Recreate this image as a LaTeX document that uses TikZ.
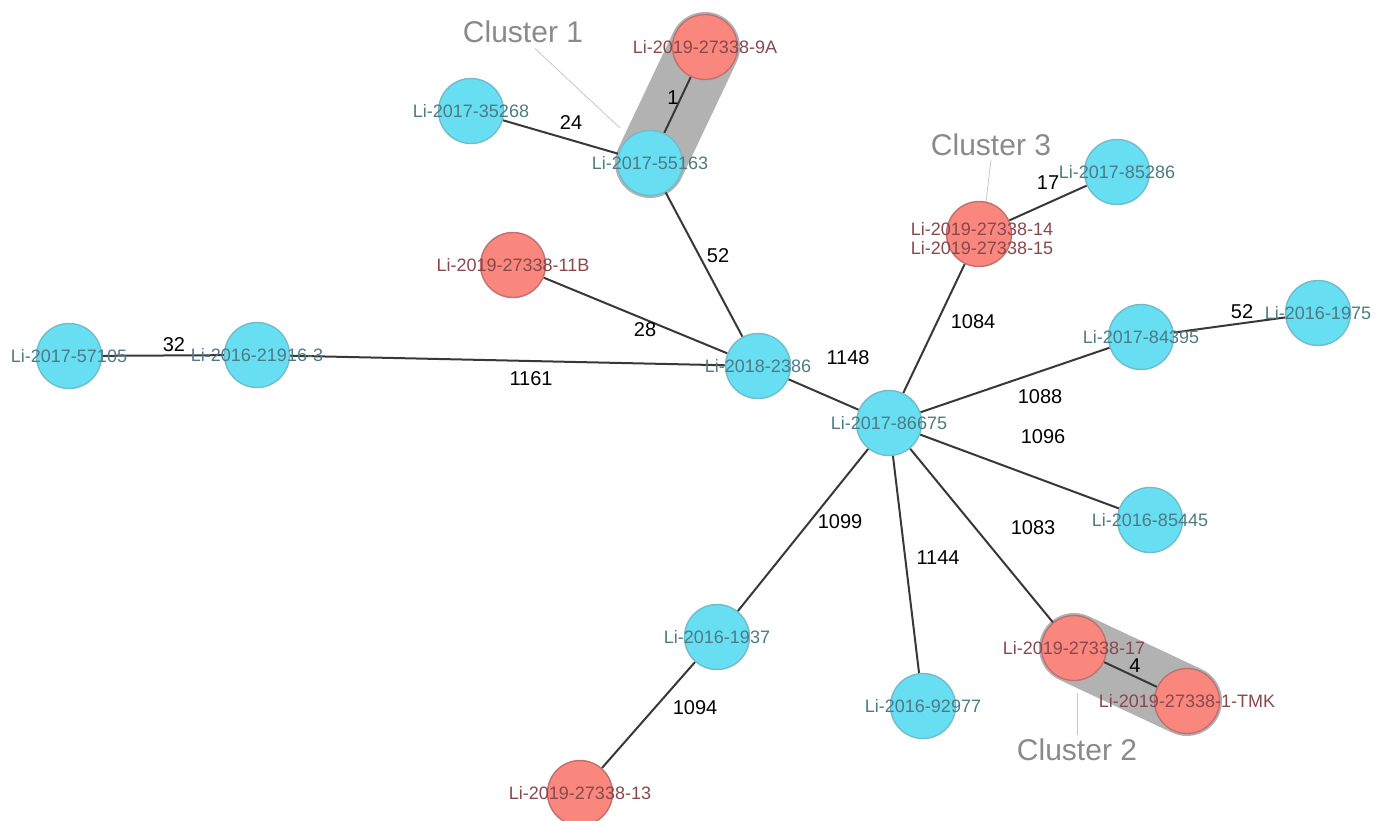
\documentclass[tikz,border=0pt]{standalone}
\usepackage{fontspec}
\setmainfont{Liberation Sans}
\usepackage{tikz}
\definecolor{nodeblue}{RGB}{104,222,242}
\definecolor{blueline}{RGB}{112,188,202}
\definecolor{nodered}{RGB}{250,135,125}
\definecolor{redline}{RGB}{192,112,112}
\definecolor{bluetext}{RGB}{78,122,132}
\definecolor{redtext}{RGB}{135,72,78}
\definecolor{bandgray}{RGB}{178,178,178}
\definecolor{clustgray}{RGB}{138,138,138}
\pgfdeclarelayer{back}
\pgfsetlayers{back,main}

\begin{document}
\begin{tikzpicture}[x=1pt, y=-1pt,
      bvtx/.style={
        circle, draw=blueline, fill=nodeblue, line width=1.4pt,
        inner sep=0pt, minimum size=65pt
      },
      rvtx/.style={
        circle, draw=redline, fill=nodered, line width=1.4pt,
        inner sep=0pt, minimum size=65pt
      },
      btxt/.style={text=bluetext, inner sep=0pt, font=\fontsize{18}{19}\selectfont},
      rtxt/.style={text=redtext, inner sep=0pt, align=center, font=\fontsize{18}{19}\selectfont},
      link/.style={draw=black!78, line width=2pt},
      dist/.style={text=black, inner sep=1pt, font=\fontsize{20}{22}\selectfont},
      clband/.style={draw=bandgray, line width=70pt, line cap=round},
      clus/.style={text=clustgray, font=\fontsize{30}{32}\selectfont},
      lead/.style={draw=black!22, line width=0.8pt}
    ]
      \useasboundingbox (0,0) rectangle (1386,821);

      \foreach \n/\x/\y/\t in {n35268/471/111/Li-2017-35268, n55163/650/163/Li-2017-55163,
          n2386/758/366/Li-2018-2386, n21916/257/355/Li-2016-21916-3,
          n57105/69/356/Li-2017-57105, n86675/889/423/Li-2017-86675,
          n85286/1117/172/Li-2017-85286, n84395/1141/337/Li-2017-84395,
          n1975/1318/313/Li-2016-1975, n85445/1150/520/Li-2016-85445,
          n92977/923/706/Li-2016-92977, n1937/717/637/Li-2016-1937} {
        \node[bvtx] (\n) at (\x,\y){};
        \node[btxt] (t\n) at (\n){\t};
      }
      \foreach \n/\x/\y/\t in {n9A/705/47/Li-2019-27338-9A, n11B/513/265/Li-2019-27338-11B,
          n13/580/793/Li-2019-27338-13, n17/1074/648/Li-2019-27338-17,
          nTMK/1187/701/Li-2019-27338-1-TMK} {
        \node[rvtx] (\n) at (\x,\y){};
        \node[rtxt] (t\n) at (\n){\t};
      }
      \node[rvtx] (n1415) at (979,234){};
      \node[rtxt] (tn1415) at (982,239){Li-2019-27338-14\\Li-2019-27338-15};

      % distances
      \node[dist] (l1) at (673,98){1};
      \node[dist] (l24) at (571,123){24};
      \node[dist] (l52a) at (718,256){52};
      \node[dist] (l28) at (645,330){28};
      \node[dist] (l32) at (174,345){32};
      \node[dist] (l1161) at (531,379){1161};
      \node[dist] (l1148) at (848,358){1148};
      \node[dist] (l1084) at (973,322){1084};
      \node[dist] (l17) at (1048,183){17};
      \node[dist] (l1088) at (1040,397){1088};
      \node[dist] (l52b) at (1242,312){52};
      \node[dist] (l1096) at (1043,437){1096};
      \node[dist] (l1083) at (1033,528){1083};
      \node[dist] (l4) at (1135,666){4};
      \node[dist] (l1144) at (938,558){1144};
      \node[dist] (l1099) at (840,522){1099};
      \node[dist] (l1094) at (695,708){1094};

      % clusters
      \node[clus] (c1) at (523,32){Cluster 1};
      \node[clus] (c3) at (991,145){Cluster 3};
      \node[clus] (c2) at (1077,750){Cluster 2};
      \coordinate (e1) at (620,128);
      \coordinate (e3) at (986,202);
      \coordinate (e2) at (1077,693);

      \begin{pgfonlayer}{back}
        \draw[lead] (c1.south) ++(12,2) -- (e1);
        \draw[lead] (c3.south) -- (e3);
        \draw[lead] (c2.north) -- (e2);
        \draw[clband] (n9A.center) -- (n55163.center);
        \draw[clband] (n17.center) -- (nTMK.center);

        \draw[link] (n9A)--(n55163);
        \draw[link] (n35268)--(n55163)--(n2386);
        \draw[link] (n11B)--(n2386);
        \draw[link] (n57105)--(n21916)--(n2386)--(n86675);
        \draw[link] (n86675)--(n1415)--(n85286);
        \draw[link] (n86675)--(n84395)--(n1975);
        \draw[link] (n86675)--(n85445);
        \draw[link] (n86675)--(n17)--(nTMK);
        \draw[link] (n86675)--(n92977);
        \draw[link] (n86675)--(n1937)--(n13);
      \end{pgfonlayer}
    \end{tikzpicture}
\end{document}
